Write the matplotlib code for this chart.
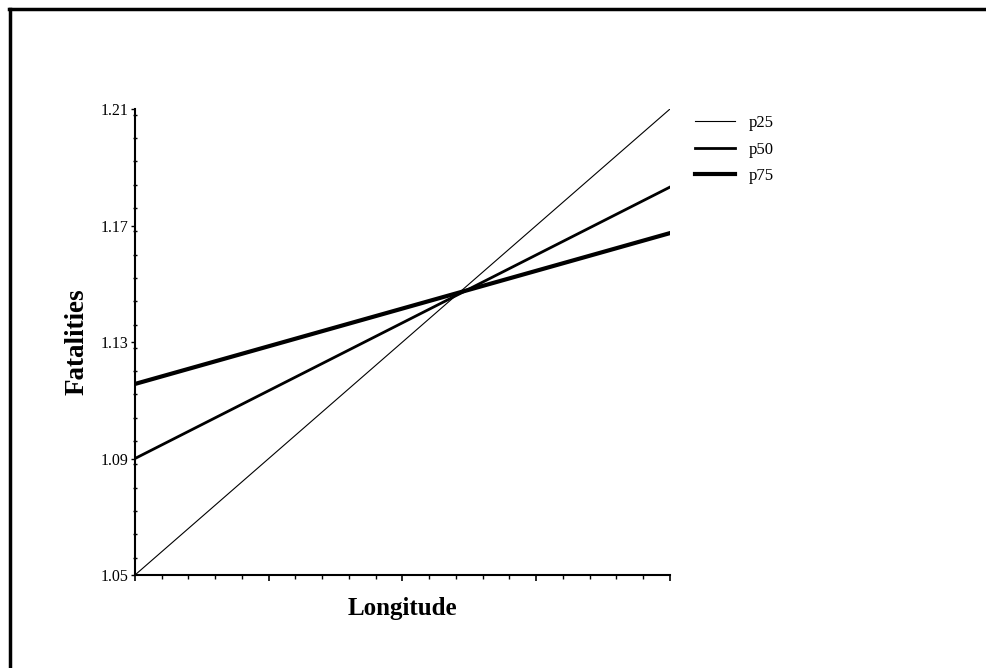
import numpy as np
import matplotlib
matplotlib.use("Agg")
import matplotlib.pyplot as plt
from matplotlib.lines import Line2D
from matplotlib.ticker import MultipleLocator

# longitude range (no tick labels shown) and line end values
x_ends = [0, 20]
p25 = [1.05, 1.21]
p50 = [1.09, 1.1832]
p75 = [1.1156, 1.1674]
series_names = ["p25", "p50", "p75"]
y_ticks = [1.05, 1.09, 1.13, 1.17, 1.21]

plt.rcParams['font.family'] = ['Liberation Serif', 'DejaVu Serif']

fig = plt.figure(figsize=(9.86, 6.68), dpi=100)
ax = fig.add_axes([0.1369, 0.1392, 0.5426, 0.6976])

ax.plot(x_ends, p25, color="black", lw=0.8, label=series_names[0])
ax.plot(x_ends, p50, color="black", lw=2.0, label=series_names[1])
ax.plot(x_ends, p75, color="black", lw=3.0, label=series_names[2])

ax.set_xlim(x_ends[0], x_ends[1])
ax.set_ylim(1.05, 1.21)
ax.set_yticks(y_ticks)
ax.set_yticklabels(["%.2f" % v for v in y_ticks], fontsize=11.5)
ax.yaxis.set_minor_locator(MultipleLocator(0.008))
ax.xaxis.set_major_locator(MultipleLocator(5))
ax.xaxis.set_minor_locator(MultipleLocator(1))
ax.set_xticklabels([])

for s in ["top", "right"]:
    ax.spines[s].set_visible(False)
for s in ["left", "bottom"]:
    ax.spines[s].set_linewidth(1.5)
ax.tick_params(axis="x", which="major", direction="out", length=4, width=1.2)
ax.tick_params(axis="x", which="minor", direction="out", length=3, width=1.0)
ax.tick_params(axis="y", which="major", direction="out", length=3, width=1.0, pad=1.5)
ax.tick_params(axis="y", which="minor", direction="inout", length=3, width=1.0)

ax.set_xlabel("Longitude", fontsize=18, fontweight="bold", labelpad=8)
ax.set_ylabel("Fatalities", fontsize=19.5, fontweight="bold", labelpad=8)

fig.legend(loc="upper left", bbox_to_anchor=(0.69, 0.85), frameon=False,
           fontsize=12, handlelength=2.4, handletextpad=0.8, labelspacing=0.62)

# frame lines visible on top and left edges of the picture
fig.add_artist(Line2D([0.0095, 1.0], [0.986, 0.986], color="black", lw=2.5,
                      transform=fig.transFigure))
fig.add_artist(Line2D([0.0105, 0.0105], [0.0, 0.986], color="black", lw=2.5,
                      transform=fig.transFigure))

fig.savefig("out.png", dpi=100)
